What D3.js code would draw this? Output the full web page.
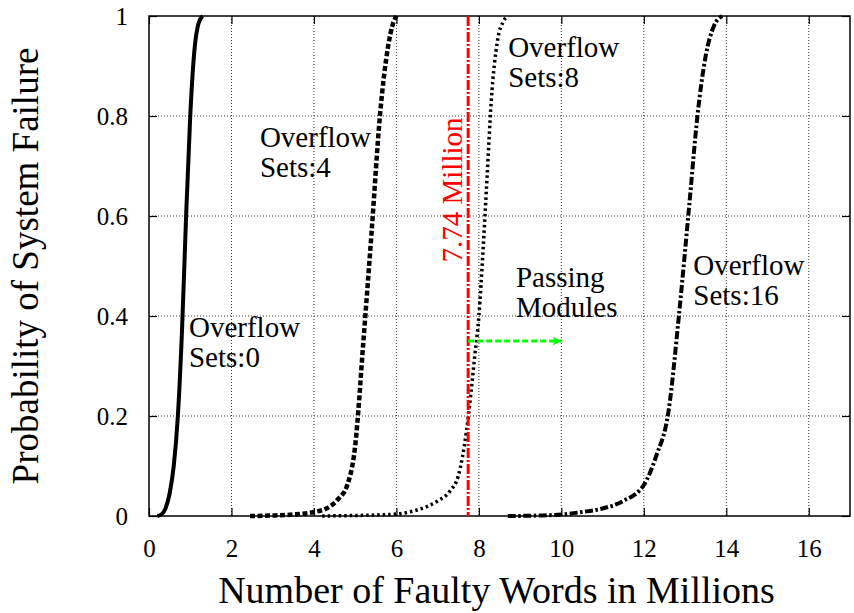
<!DOCTYPE html>
<html>
<head>
<meta charset="utf-8">
<script src="https://cdnjs.cloudflare.com/ajax/libs/d3/7.8.5/d3.min.js"></script>
<style>
  body { margin: 0; background: #fff; }
  svg text { font-family: "Liberation Serif", serif; }
</style>
</head>
<body>
<svg id="chart" width="854" height="613" font-family="Liberation Serif"></svg>
<script>
// data
var xTicks = [0, 2, 4, 6, 8, 10, 12, 14, 16];
var yTicks = [0, 0.2, 0.4, 0.6, 0.8, 1];

var sets0X = [0.2, 0.3, 0.4, 0.5, 0.6, 0.7, 0.8, 0.9, 1.0, 1.1, 1.2, 1.3];
var sets0Y = [0, 0.003, 0.015, 0.045, 0.1, 0.2, 0.37, 0.6, 0.8, 0.93, 0.985, 1.0];

var sets4X = [2.45, 3.0, 3.5, 4.0, 4.3, 4.6, 4.8, 5.0, 5.2, 5.4, 5.6, 5.8, 5.9, 6.0];
var sets4Y = [0, 0.001, 0.003, 0.008, 0.015, 0.035, 0.06, 0.14, 0.35, 0.57, 0.8, 0.94, 0.98, 1.0];

var sets8X = [4.2, 5.0, 5.5, 6.0, 6.5, 7.0, 7.3, 7.5, 7.7, 7.9, 8.0, 8.1, 8.2, 8.3, 8.45, 8.6, 8.7];
var sets8Y = [0, 0.001, 0.002, 0.004, 0.012, 0.03, 0.05, 0.08, 0.17, 0.32, 0.4, 0.53, 0.68, 0.83, 0.95, 0.99, 1.0];

var sets16X = [8.7, 9.5, 10.0, 10.5, 11.0, 11.5, 12.0, 12.3, 12.6, 12.85, 13.1, 13.3, 13.5, 13.7, 13.9];
var sets16Y = [0, 0.001, 0.003, 0.008, 0.015, 0.03, 0.062, 0.12, 0.21, 0.4, 0.62, 0.8, 0.92, 0.98, 1.0];

var limitX = 7.74;
var arrowFrom = 7.74, arrowTo = 10, arrowY = 0.35;

var labels = [
  {x: 0.97, y: 0.358, lines: ["Overflow", "Sets:0"]},
  {x: 2.69, y: 0.738, lines: ["Overflow", "Sets:4"]},
  {x: 8.71, y: 0.918, lines: ["Overflow", "Sets:8"]},
  {x: 8.9, y: 0.458, lines: ["Passing", "Modules"]},
  {x: 13.2, y: 0.482, lines: ["Overflow", "Sets:16"]}
];

var margin = {top: 16, right: 4, bottom: 97, left: 149};
var svg = d3.select("#chart");
var width = 854 - margin.left - margin.right;
var height = 613 - margin.top - margin.bottom;

var xScale = d3.scaleLinear().domain([0, 17]).range([margin.left, margin.left + width]);
var yScale = d3.scaleLinear().domain([0, 1]).range([margin.top + height, margin.top]);

// grid
svg.append("g")
  .selectAll("line")
  .data(xTicks.filter(function(d) { return d > 0; }))
  .enter().append("line")
  .attr("x1", function(d) { return xScale(d); })
  .attr("x2", function(d) { return xScale(d); })
  .attr("y1", yScale(1)).attr("y2", yScale(0))
  .attr("stroke", "#333").attr("stroke-width", 1).attr("stroke-dasharray", "1,2");

svg.append("g")
  .selectAll("line")
  .data(yTicks.filter(function(d) { return d > 0 && d < 1; }))
  .enter().append("line")
  .attr("y1", function(d) { return yScale(d); })
  .attr("y2", function(d) { return yScale(d); })
  .attr("x1", xScale(0)).attr("x2", xScale(17))
  .attr("stroke", "#333").attr("stroke-width", 1).attr("stroke-dasharray", "1,2");

// axes with inward ticks on all four sides
var fmtY = function(d) { return d === 0 || d === 1 ? d : d.toFixed(1); };

var xAxis = svg.append("g")
  .attr("transform", "translate(0," + yScale(0) + ")")
  .call(d3.axisBottom(xScale).tickValues(xTicks).tickSizeInner(-8).tickSizeOuter(0).tickPadding(23));
var yAxis = svg.append("g")
  .attr("transform", "translate(" + xScale(0) + ",0)")
  .call(d3.axisLeft(yScale).tickValues(yTicks).tickFormat(fmtY).tickSizeInner(-8).tickSizeOuter(0).tickPadding(21));
svg.append("g")
  .attr("transform", "translate(0," + yScale(1) + ")")
  .call(d3.axisTop(xScale).tickValues(xTicks).tickSizeInner(-8).tickSizeOuter(0).tickFormat(""));
svg.append("g")
  .attr("transform", "translate(" + xScale(17) + ",0)")
  .call(d3.axisRight(yScale).tickValues(yTicks).tickSizeInner(-8).tickSizeOuter(0).tickFormat(""));

svg.selectAll(".domain").remove();
svg.selectAll(".tick line").attr("stroke", "#000").attr("stroke-width", 1.2);
xAxis.attr("font-family", "Liberation Serif").attr("font-size", 25);
yAxis.attr("font-family", "Liberation Serif").attr("font-size", 25);
xAxis.selectAll("text").attr("fill", "#000").attr("dy", "0.71em");
yAxis.selectAll("text").attr("fill", "#000");

// frame
svg.append("rect")
  .attr("x", xScale(0)).attr("y", yScale(1))
  .attr("width", width).attr("height", height)
  .attr("fill", "none").attr("stroke", "#000").attr("stroke-width", 1.5);

// curves
var line = d3.line()
  .x(function(d) { return xScale(d[0]); })
  .y(function(d) { return yScale(d[1]); })
  .curve(d3.curveMonotoneX);

var series = [
  {x: sets0X, y: sets0Y, dash: null, w: 4},
  {x: sets4X, y: sets4Y, dash: "5,2.5", w: 4.5},
  {x: sets8X, y: sets8Y, dash: "2.5,3", w: 3.5},
  {x: sets16X, y: sets16Y, dash: "8,2.5,2.5,2.5", w: 4}
];

series.forEach(function(s) {
  var pts = s.x.map(function(v, i) { return [v, s.y[i]]; });
  svg.append("path")
    .datum(pts)
    .attr("d", line)
    .attr("fill", "none")
    .attr("stroke", "#000")
    .attr("stroke-width", s.w)
    .attr("stroke-dasharray", s.dash);
});

// 7.74 million limit
svg.append("line")
  .attr("x1", xScale(limitX)).attr("x2", xScale(limitX))
  .attr("y1", yScale(1)).attr("y2", yScale(0))
  .attr("stroke", "#ff0000").attr("stroke-width", 3)
  .attr("stroke-dasharray", "10,2,2,2");

svg.append("text")
  .attr("transform", "translate(" + (xScale(limitX) - 6) + "," + (yScale(0.507)) + ") rotate(-90)")
  .attr("text-anchor", "start")
  .attr("fill", "#ff0000")
  .attr("font-size", 29)
  .text("7.74 Million");

// passing modules arrow
svg.append("defs").append("marker")
  .attr("id", "head")
  .attr("viewBox", "0 0 10 10")
  .attr("refX", 10).attr("refY", 5)
  .attr("markerWidth", 14).attr("markerHeight", 9)
  .attr("markerUnits", "userSpaceOnUse")
  .attr("orient", "auto")
  .append("path")
  .attr("d", "M0,0L10,5L0,10L3,5Z")
  .attr("fill", "#00ff00");

svg.append("line")
  .attr("x1", xScale(arrowFrom)).attr("x2", xScale(arrowTo))
  .attr("y1", yScale(arrowY)).attr("y2", yScale(arrowY))
  .attr("stroke", "#00ff00").attr("stroke-width", 3)
  .attr("stroke-dasharray", "6,3")
  .attr("marker-end", "url(#head)");

// labels
labels.forEach(function(l) {
  l.lines.forEach(function(s, i) {
    svg.append("text")
      .attr("x", xScale(l.x))
      .attr("y", yScale(l.y) + i * 30)
      .attr("fill", "#000")
      .attr("font-size", 29)
      .text(s);
  });
});

// axis titles
svg.append("text")
  .attr("x", margin.left + width / 2 - 3)
  .attr("y", 603)
  .attr("text-anchor", "middle")
  .attr("font-size", 38)
  .text("Number of Faulty Words in Millions");

svg.append("text")
  .attr("transform", "translate(38," + (margin.top + height / 2) + ") rotate(-90)")
  .attr("text-anchor", "middle")
  .attr("font-size", 37)
  .text("Probability of System Failure");
</script>
</body>
</html>
